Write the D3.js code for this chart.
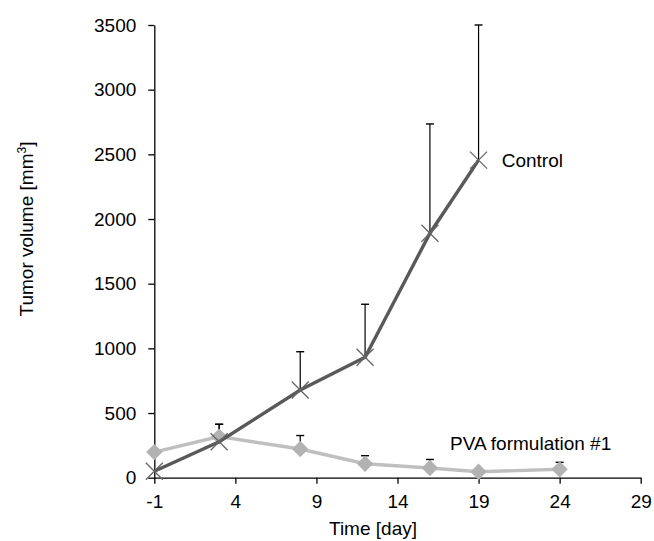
<!DOCTYPE html>
<html>
<head>
<meta charset="utf-8">
<script src="https://cdn.jsdelivr.net/npm/d3@7"></script>
<style>
  body { margin: 0; background: #fff; }
  text { font-family: "Liberation Sans", Arial, sans-serif; }
</style>
</head>
<body>
<div id="chart"></div>
<script>
// data
const days = [-1, 3, 8, 12, 16, 19, 24];
const controlDays = [-1, 3, 8, 12, 16, 19];
const controlValues = [50, 278, 678, 931, 1890, 2455];
const controlErr = [0, 135, 296, 410, 845, 1045];
const pvaValues = [198, 318, 222, 108, 75, 46, 65];
const pvaErr = [0, 95, 104, 62, 66, 0, 54];
const xTicks = [-1, 4, 9, 14, 19, 24, 29];
const yTicks = [0, 500, 1000, 1500, 2000, 2500, 3000, 3500];

const width = 654, height = 541;
const margin = {left: 154.3, right: 13.3, top: 25, bottom: 63.3};
const fontSize = 19;

const svg = d3.select('#chart').append('svg')
    .attr('width', width)
    .attr('height', height);

const x = d3.scaleLinear().domain([-1, 29]).range([margin.left, width - margin.right]);
const y = d3.scaleLinear().domain([0, 3500]).range([height - margin.bottom, margin.top]);

// axes
const xAxis = svg.append('g')
    .attr('transform', 'translate(0,' + y(0) + ')')
    .call(d3.axisBottom(x).tickValues(xTicks).tickFormat(d => String(d))
        .tickSize(6).tickSizeOuter(0).tickPadding(11));
const yAxis = svg.append('g')
    .attr('transform', 'translate(' + x(-1) + ',0)')
    .call(d3.axisLeft(y).tickValues(yTicks).tickFormat(d => String(d))
        .tickSize(6).tickSizeOuter(0).tickPadding(12));

[xAxis, yAxis].forEach(a => {
    a.selectAll('path, line').attr('stroke', '#000').attr('stroke-width', 1.3);
    a.selectAll('text').attr('font-size', fontSize).attr('fill', '#000')
        .style('font-family', '"Liberation Sans", Arial, sans-serif');
});

const controlPts = controlDays.map((d, i) => ({d: d, v: controlValues[i], e: controlErr[i]}));
const pvaPts = days.map((d, i) => ({d: d, v: pvaValues[i], e: pvaErr[i]}));

const line = d3.line().x(p => x(p.d)).y(p => y(p.v));

// error bars, upper side only
function errorBars(pts) {
    const g = svg.append('g');
    pts.filter(p => p.e > 0).forEach(p => {
        g.append('line')
            .attr('x1', x(p.d)).attr('x2', x(p.d))
            .attr('y1', y(p.v)).attr('y2', y(p.v + p.e))
            .attr('stroke', '#000').attr('stroke-width', 1.2);
        g.append('line')
            .attr('x1', x(p.d) - 4).attr('x2', x(p.d) + 4)
            .attr('y1', y(p.v + p.e)).attr('y2', y(p.v + p.e))
            .attr('stroke', '#000').attr('stroke-width', 1.4);
    });
}
errorBars(pvaPts);
errorBars(controlPts);

// PVA series
svg.append('path')
    .datum(pvaPts)
    .attr('d', line)
    .attr('fill', 'none')
    .attr('stroke', '#bfbfbf')
    .attr('stroke-width', 3.4);

svg.append('g').selectAll('path')
    .data(pvaPts)
    .enter()
    .append('path')
    .attr('d', d3.symbol().type(d3.symbolDiamond2).size(170))
    .attr('transform', p => 'translate(' + x(p.d) + ',' + y(p.v) + ')')
    .attr('fill', '#b2b2b2');

// Control series
svg.append('path')
    .datum(controlPts)
    .attr('d', line)
    .attr('fill', 'none')
    .attr('stroke', '#595959')
    .attr('stroke-width', 3.4);

svg.append('g').selectAll('path')
    .data(controlPts)
    .enter()
    .append('path')
    .attr('d', 'M-8.5,-8.5L8.5,8.5M-8.5,8.5L8.5,-8.5')
    .attr('transform', p => 'translate(' + x(p.d) + ',' + y(p.v) + ')')
    .attr('fill', 'none')
    .attr('stroke', '#666')
    .attr('stroke-width', 1.3);

// labels
svg.append('text')
    .attr('x', 501.7).attr('y', 166.5)
    .attr('font-size', fontSize)
    .text('Control');

svg.append('text')
    .attr('x', 450).attr('y', 450)
    .attr('font-size', fontSize)
    .text('PVA formulation #1');

svg.append('text')
    .attr('x', 373)
    .attr('y', 535)
    .attr('text-anchor', 'middle')
    .attr('font-size', fontSize)
    .text('Time [day]');

const yTitle = svg.append('text')
    .attr('transform', 'translate(32.5,229) rotate(-90)')
    .attr('text-anchor', 'middle')
    .attr('font-size', fontSize);
yTitle.append('tspan').text('Tumor volume [mm');
yTitle.append('tspan').attr('font-size', 12).attr('dy', -7).text('3');
yTitle.append('tspan').attr('dy', 7).text(']');
</script>
</body>
</html>
